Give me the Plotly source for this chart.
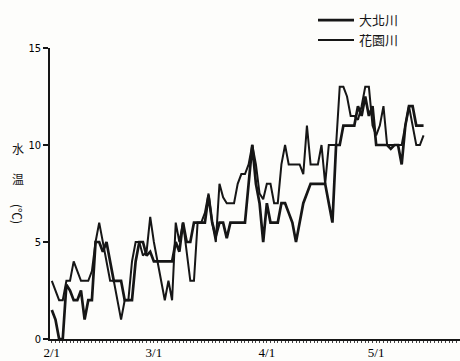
import plotly.graph_objects as go

# Days counted from 2/1 (day 0) through mid-May
days = list(range(103))

# Daily water temperature (°C)
daikita = [
    1.5, 1.0, 0, 0, 2.8, 2.5, 2, 2, 2.5, 1,
    2, 2, 5, 5, 4.5, 5, 4, 3, 3, 3,
    2, 2, 2, 4, 5, 5, 4.3, 4.5, 4, 4,
    4, 4, 4, 4, 5, 4.5, 6, 5, 5, 6,
    6, 6, 6, 7.4, 6, 5.3, 6, 6, 5.2, 6,
    6, 6, 6, 6, 8, 10, 8, 7, 5, 7,
    6, 6, 6, 7, 7, 6.5, 6, 5, 6, 7,
    7.5, 8, 8, 8, 8, 8, 7, 6, 10, 10,
    11, 11, 11, 11, 12, 11.5, 12.5, 11.5, 12, 10,
    10, 10, 10, 9.8, 10, 10, 9, 11, 12, 12,
    11, 11, 11,
]
hanazono = [
    3, 2.5, 2, 2, 3, 3, 4, 3.5, 3, 3,
    3, 3.5, 5, 6, 5, 4, 3, 3, 2, 1,
    2, 2, 4, 5, 5, 4.3, 4.5, 6.3, 5, 4,
    3, 2, 3, 2, 6, 5, 6, 4.5, 3, 3,
    6, 6, 6.5, 7.5, 6, 5, 8, 7.3, 7, 7,
    7, 8, 8.5, 8.5, 9, 10, 9, 7.5, 7.2, 8,
    8, 7, 7, 9, 10, 9, 9, 9, 9, 8.5,
    11, 9, 9, 9, 10, 8, 10, 10, 10, 13,
    13, 12.5, 11.5, 11.5, 11.3, 12, 13, 13, 11, 10.5,
    11, 12, 10, 10, 10, 10, 10, 11, 12, 11,
    10, 10, 10.5,
]

tick_days = [0, 28, 59, 89]
tick_text = ["2/1", "3/1", "4/1", "5/1"]
y_ticks = [0, 5, 10, 15]

ink = "#161616"
serif = "Liberation Serif"
cjk = "Noto Sans CJK TC"

fig = go.Figure()
fig.add_trace(go.Scatter(x=days, y=daikita, mode="lines", name="大北川",
                         line=dict(color=ink, width=2.7)))
fig.add_trace(go.Scatter(x=days, y=hanazono, mode="lines", name="花園川",
                         line=dict(color=ink, width=2.0)))

fig.update_layout(
    width=460, height=361,
    margin=dict(l=50, r=0, t=48, b=22),
    paper_bgcolor="#fdfdfb", plot_bgcolor="#fdfdfb",
    showlegend=True,
    legend=dict(x=(313 - 50) / 410, y=1.147, xanchor="left", yanchor="top",
                bgcolor="rgba(0,0,0,0)", itemwidth=36, tracegroupgap=0,
                font=dict(family=cjk, size=13, color=ink)),
    font=dict(family=serif, color=ink),
)

fig.update_xaxes(
    range=[-0.5, 112], tickvals=tick_days, ticktext=tick_text,
    showgrid=False, zeroline=False, showline=True, linecolor=ink, linewidth=2,
    ticks="", tickfont=dict(family=serif, size=13, color="#000000"),
    minor=dict(dtick=1, ticks="outside", ticklen=2, tickcolor="#444", tickwidth=1),
)
fig.update_yaxes(
    range=[0, 15], tickvals=y_ticks, ticktext=[str(v) for v in y_ticks],
    showgrid=False, zeroline=False, showline=True, linecolor=ink, linewidth=1.6,
    ticks="outside", ticklen=5, tickcolor=ink, tickwidth=1.5,
    tickfont=dict(family="DejaVu Sans Condensed", size=11, color="#000000"),
)

# Vertical axis title: 水 / 温 stacked, (℃) turned sideways
for txt, ypx, ang in [("水", 148, 0), ("温", 178, 0), ("(℃)", 214, 90)]:
    fig.add_annotation(
        text=txt, showarrow=False, textangle=ang,
        xref="paper", yref="paper",
        x=(18 - 50) / 410, y=1 - (ypx - 48) / 291,
        xanchor="center", yanchor="middle",
        font=dict(family=cjk, size=12, color=ink),
    )

fig.write_html("out.html")
